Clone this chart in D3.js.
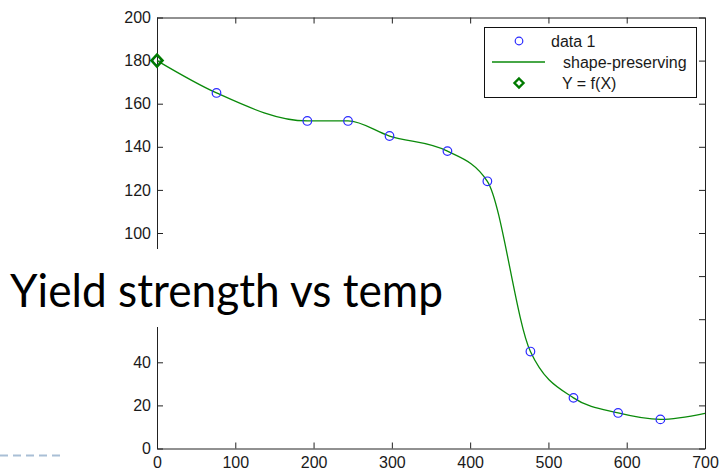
<!DOCTYPE html>
<html>
<head>
<meta charset="utf-8">
<script src="https://cdn.jsdelivr.net/npm/d3@7"></script>
<style>
  html, body { margin: 0; padding: 0; background: #fff; }
  svg { display: block; }
</style>
</head>
<body>
<svg id="chart" width="720" height="474"></svg>
<script>
// Measured yield strength against temperature
const temps     = [0, 76, 192, 244, 297, 371, 422, 477, 532, 589, 643];
const strengths = [180, 165, 152, 152, 145, 138, 124, 45, 23.5, 16.5, 13.5];
// Shape-preserving fit continues to the end of the axis
const fitEnd = { temp: 700, strength: 16.3 };
// Evaluated point Y = f(X)
const evalTemps = [0];
const evalValues = [180];

const xTicks = [0, 100, 200, 300, 400, 500, 600, 700];
const yTicks = [0, 20, 40, 60, 80, 100, 120, 140, 160, 180, 200];
const legendLabels = ["data 1", "shape-preserving", "Y = f(X)"];
const titleText = "Yield strength vs temp";

const svg = d3.select("#chart");
const plotL = 157, plotR = 705, plotT = 17.5, plotB = 448.5;
// White band carrying the title, laid across the left of the plot
const band = { x: 0, y: 249, w: 446, h: 78 };

const x = d3.scaleLinear().domain([0, 700]).range([plotL, plotR]);
const y = d3.scaleLinear().domain([0, 200]).range([plotB, plotT]);

const tickFont = "'Liberation Sans', Arial, sans-serif";

// Box axes with inward ticks on all four sides
function styleAxis(g) {
  g.selectAll("path.domain").attr("stroke", "#222").attr("stroke-width", 1);
  g.selectAll(".tick line").attr("stroke", "#222");
  g.selectAll("text").attr("fill", "#1a1a1a")
    .style("font-family", tickFont).style("font-size", "16px");
}

// y labels that sit under the title band are covered, so leave them blank
const underBand = v => y(v) > band.y && y(v) < band.y + band.h;

svg.append("g").attr("transform", `translate(0,${plotB})`)
  .call(d3.axisBottom(x).tickValues(xTicks).tickSizeInner(-6).tickSizeOuter(0).tickPadding(8))
  .call(styleAxis);
svg.append("g").attr("transform", `translate(0,${plotT})`)
  .call(d3.axisTop(x).tickValues(xTicks).tickSizeInner(-6).tickSizeOuter(0).tickFormat(""))
  .call(styleAxis);
svg.append("g").attr("transform", `translate(${plotL},0)`)
  .call(d3.axisLeft(y).tickValues(yTicks).tickSizeInner(-6).tickSizeOuter(0).tickPadding(6)
    .tickFormat(v => underBand(v) ? "" : d3.format("d")(v)))
  .call(styleAxis);
svg.append("g").attr("transform", `translate(${plotR},0)`)
  .call(d3.axisRight(y).tickValues(yTicks).tickSizeInner(-6).tickSizeOuter(0).tickFormat(""))
  .call(styleAxis);

// Fitted curve
const fitPts = temps.map((t, i) => [t, strengths[i]]).concat([[fitEnd.temp, fitEnd.strength]]);
const line = d3.line().x(d => x(d[0])).y(d => y(d[1])).curve(d3.curveMonotoneX);
svg.append("path").datum(fitPts)
  .attr("d", line).attr("fill", "none")
  .attr("stroke", "#0a8a0a").attr("stroke-width", 1.3);

// Data markers
svg.append("g").selectAll("circle").data(temps).join("circle")
  .attr("cx", d => x(d)).attr("cy", (d, i) => y(strengths[i]))
  .attr("r", 4.3).attr("fill", "none").attr("stroke", "#2a2aff").attr("stroke-width", 1.2);

// Diamond marker
const diamond = (cx, cy, w, h) => `M${cx},${cy - h}L${cx + w},${cy}L${cx},${cy + h}L${cx - w},${cy}Z`;
svg.append("g").selectAll("path").data(evalTemps).join("path")
  .attr("d", (d, i) => diamond(x(d), y(evalValues[i]), 5.5, 6))
  .attr("fill", "none").attr("stroke", "#007a00").attr("stroke-width", 2.6);

// Legend
const lg = svg.append("g");
lg.append("rect").attr("x", 484.5).attr("y", 27.5).attr("width", 212).attr("height", 70)
  .attr("fill", "#fff").attr("stroke", "#111").attr("stroke-width", 1);
const rowY = [41, 62, 83];
const textX = [551, 563, 562];
lg.append("circle").attr("cx", 519).attr("cy", rowY[0]).attr("r", 3.8)
  .attr("fill", "none").attr("stroke", "#2a2aff").attr("stroke-width", 1.2);
lg.append("line").attr("x1", 492).attr("x2", 545).attr("y1", rowY[1]).attr("y2", rowY[1])
  .attr("stroke", "#0a8a0a").attr("stroke-width", 1.3);
lg.append("path").attr("d", diamond(519, rowY[2], 4.5, 4.5))
  .attr("fill", "none").attr("stroke", "#007a00").attr("stroke-width", 2.4);
lg.selectAll("text").data(legendLabels).join("text")
  .attr("x", (d, i) => textX[i]).attr("y", (d, i) => rowY[i] + 6)
  .attr("fill", "#1a1a1a").style("font-family", tickFont).style("font-size", "16px")
  .text(d => d);

// Title band and title
svg.append("rect").attr("x", band.x).attr("y", band.y).attr("width", band.w).attr("height", band.h)
  .attr("fill", "#fff");
const title = svg.append("text").attr("x", 10).attr("y", 307)
  .attr("fill", "#000").style("font-family", "Lato, 'Open Sans', sans-serif")
  .style("font-size", "47px").text(titleText);
const tw = title.node().getComputedTextLength();
if (tw > 433) title.attr("textLength", 433).attr("lengthAdjust", "spacingAndGlyphs");

// Decorative dashed rule at bottom left
svg.append("line").attr("x1", 0).attr("x2", 64).attr("y1", 455.5).attr("y2", 455.5)
  .attr("stroke", "#a9bfd6").attr("stroke-width", 2).attr("stroke-dasharray", "8,5");
</script>
</body>
</html>
